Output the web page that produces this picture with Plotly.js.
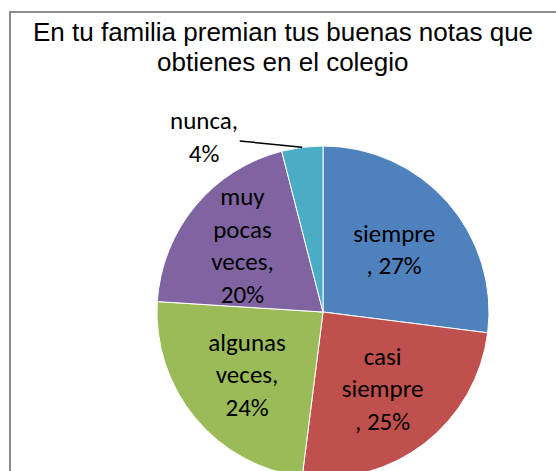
<!DOCTYPE html>
<html>
<head>
<meta charset="utf-8">
<script src="https://cdn.plot.ly/plotly-3.0.1.min.js"></script>
<style>
html,body{margin:0;padding:0;overflow:hidden;background:#fff;}
#chart{width:556px;height:520px;}
</style>
</head>
<body>
<div id="chart"></div>
<script>
// Data
const categories = ["siempre", "casi siempre", "algunas veces", "muy pocas veces", "nunca"];
const values = [27, 25, 24, 20, 4];
const labelText = ["siempre<br>, 27%", "casi<br>siempre<br>, 25%", "algunas<br>veces,<br>24%", "muy<br>pocas<br>veces,<br>20%", ""];
const outsideLabel = "nunca,<br>4%";
const titleLines = ["En tu familia premian tus buenas notas que", "obtienes en el colegio"];
const colors = ["#4F81BD", "#C0504D", "#9BBB59", "#8064A2", "#4BACC6"];

const W = 556, H = 520;
const cx = 323, cy = 312, R = 166;
const domX = [(cx - R) / W, (cx + R) / W];
const domY = [(H - cy - R) / H, (H - cy + R) / H];

const labelFont = {family: "Carlito, Lato, sans-serif", size: 25, color: "#000"};
const titleFont = {family: "Liberation Sans, Arial, sans-serif", size: 26, color: "#000"};

const trace = {
  type: "pie",
  labels: categories,
  values: values,
  sort: false,
  direction: "clockwise",
  rotation: 0,
  marker: {colors: colors, line: {color: "#ffffff", width: 1}},
  text: labelText,
  textinfo: "text",
  texttemplate: "%{text}",
  textposition: ["inside", "inside", "inside", "inside", "none"],
  insidetextorientation: "horizontal",
  insidetextfont: labelFont,
  hoverinfo: "label+percent",
  showlegend: false,
  domain: {x: domX, y: domY}
};

// leader label for the last (small) slice, anchored at its mid angle on the rim
const total = values.reduce((a, b) => a + b, 0);
const before = values.slice(0, 4).reduce((a, b) => a + b, 0);
const midFrac = (before + values[4] / 2) / total;
const ang = midFrac * 2 * Math.PI;
const px = cx + R * Math.sin(ang);
const py = cy - R * Math.cos(ang);

const titleMid = [31.5, 61.5];
const annotations = titleLines.map((t, i) => ({
  xref: "paper", yref: "paper",
  x: 283 / W, xanchor: "center",
  y: 1 - titleMid[i] / H, yanchor: "middle",
  text: t, showarrow: false, font: titleFont
}));
annotations.push({
  xref: "paper", yref: "paper",
  x: px / W, y: 1 - py / H,
  text: outsideLabel, font: labelFont,
  showarrow: true, arrowhead: 0, arrowwidth: 1.5, arrowcolor: "#000",
  ax: -98, ay: -10, align: "center"
});

const layout = {
  width: W, height: H,
  margin: {l: 0, r: 0, t: 0, b: 0},
  paper_bgcolor: "#ffffff",
  uniformtext: {mode: "show", minsize: 25},
  shapes: [{
    type: "rect", xref: "paper", yref: "paper",
    x0: 10 / W, x1: 1.05, y0: -0.1, y1: 1 - 12 / H,
    line: {color: "#8c8c8c", width: 2}, fillcolor: "rgba(0,0,0,0)"
  }],
  annotations: annotations
};

Plotly.newPlot("chart", [trace], layout, {displayModeBar: false, staticPlot: true});
</script>
</body>
</html>
